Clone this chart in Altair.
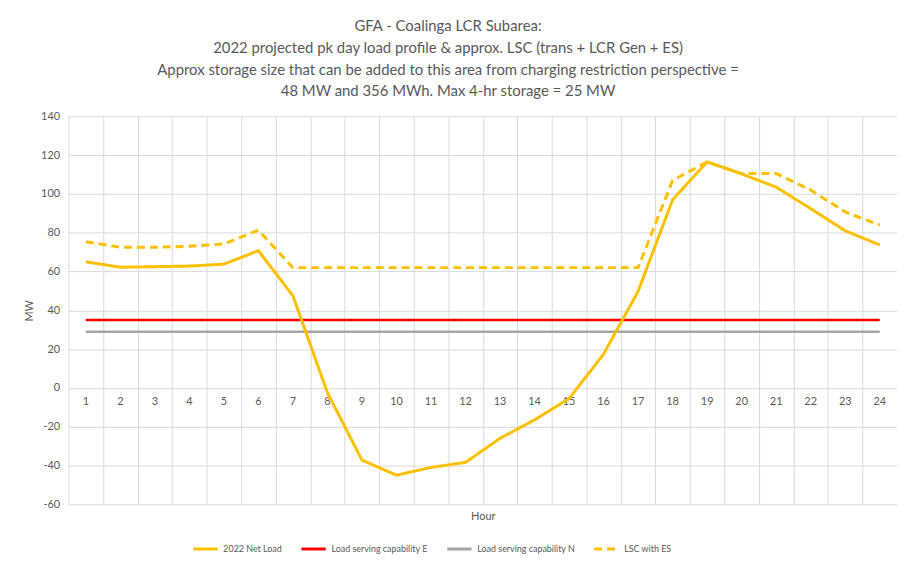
import altair as alt
import pandas as pd

hours = list(range(1, 25))
net_load = [65, 62.2, 62.5, 62.8, 63.8, 70.7, 47.5, -2.5, -37.2, -45, -41, -38.4,
            -26, -16.5, -5.5, 17.4, 49.8, 97, 116.5, 110.3, 103.5, 92.4, 81, 73.7]
lsc_es = [75.3, 72.5, 72.5, 73, 74.2, 81.3, 62, 62, 62, 62, 62, 62,
          62, 62, 62, 62, 62, 107, 116.5, 110.5, 110.5, 102, 90.7, 83.9]
cap_e = [35, 35, 35, 35, 35, 35, 35, 35, 35, 35, 35, 35,
         35, 35, 35, 35, 35, 35, 35, 35, 35, 35, 35, 35]
cap_n = [29, 29, 29, 29, 29, 29, 29, 29, 29, 29, 29, 29,
         29, 29, 29, 29, 29, 29, 29, 29, 29, 29, 29, 29]
series_names = ["2022 Net Load", "Load serving capability E",
                "Load serving capability N", "LSC with ES"]
series_colors = ["#FFC000", "#FF0000", "#A5A5A5", "#FFC000"]
series_dashes = [[1, 0], [1, 0], [1, 0], [8, 5]]
y_ticks = [-60, -40, -20, 0, 20, 40, 60, 80, 100, 120, 140]
title_lines = [
    "GFA - Coalinga LCR Subarea:",
    "2022 projected pk day load profile & approx. LSC (trans + LCR Gen + ES)",
    "Approx storage size that can be added to this area from charging restriction perspective =",
    "48 MW and 356 MWh. Max 4-hr storage = 25 MW",
]

rows = []
for name, vals in zip(series_names, [net_load, cap_e, cap_n, lsc_es]):
    for h, v in zip(hours, vals):
        rows.append({"hour": h, "value": v, "series": name})
df = pd.DataFrame(rows)

W, H = 835, 391
FONT = "Lato"
TXT = "#595959"
GRID = "#D9D9D9"

xscale = alt.Scale(type="band", domain=hours, paddingInner=0, paddingOuter=0)
yscale = alt.Scale(domain=[-60, 140], nice=False, zero=False)
yaxis = alt.Axis(values=y_ticks, grid=True, gridColor=GRID, domain=False, ticks=False,
                 labelColor=TXT, labelFontSize=11, labelPadding=9, labelFont=FONT,
                 labelExpr="replace(datum.label, '\u2212', '-')",
                 title="MW", titleFont=FONT, titleFontSize=11, titleColor=TXT,
                 titleFontWeight="normal", titlePadding=6)

grid_axis = alt.Axis(orient="bottom", tickBand="extent", grid=True, gridColor=GRID,
                     labels=False, ticks=False, domain=False, title="Hour",
                     titleFont=FONT, titleFontSize=11, titleColor=TXT,
                     titleFontWeight="normal", titlePadding=6)
label_axis = alt.Axis(orient="bottom", grid=False, ticks=False, domain=False, title=None,
                      offset=-H * 0.3, labelAngle=0, labelColor=TXT, labelFontSize=11,
                      labelFont=FONT, labelPadding=8)

legend = alt.Legend(orient="none", legendX=124, legendY=422, direction="horizontal",
                    title=None, symbolType="stroke", symbolSize=600, symbolStrokeWidth=3,
                    labelFontSize=9, labelFont=FONT, labelColor=TXT, columnPadding=12,
                    labelOffset=4)

color = alt.Color("series:N", scale=alt.Scale(domain=series_names, range=series_colors),
                  legend=legend)
dash = alt.StrokeDash("series:N", scale=alt.Scale(domain=series_names, range=series_dashes),
                      legend=legend)

base = alt.Chart(df)
caps = base.transform_filter(
    alt.FieldOneOfPredicate(field="series", oneOf=series_names[1:3])
).mark_line(strokeWidth=2.5).encode(
    x=alt.X("hour:O", scale=xscale, axis=label_axis),
    y=alt.Y("value:Q", scale=yscale, axis=yaxis),
    color=color, strokeDash=dash,
)
loads = base.transform_filter(
    alt.FieldOneOfPredicate(field="series", oneOf=[series_names[0], series_names[3]])
).mark_line(strokeWidth=3).encode(
    x=alt.X("hour:O", scale=xscale, axis=grid_axis),
    y=alt.Y("value:Q", scale=yscale, axis=yaxis),
    color=color, strokeDash=dash,
)

chart = alt.layer(caps, loads).resolve_axis(x="independent").properties(
    width=W, height=H,
    autosize=alt.AutoSizeParams(type="none"),
    padding={"left": 61, "top": 107, "right": 0, "bottom": 58},
    title=alt.TitleParams(text=title_lines, font=FONT, fontSize=15, fontWeight="normal",
                          color=TXT, lineHeight=22, anchor="middle", dx=-35, offset=11),
).configure_view(strokeWidth=0)

chart.save("out.html", embed_options={"renderer": "svg", "actions": False})
